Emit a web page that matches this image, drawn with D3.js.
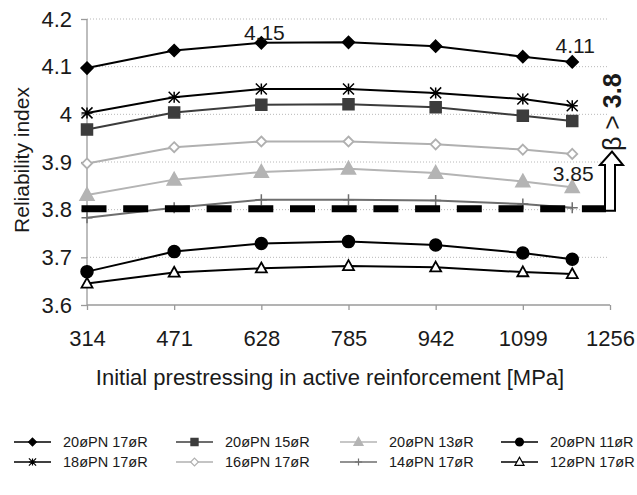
<!DOCTYPE html>
<html>
<head>
<meta charset="utf-8">
<script src="https://cdn.jsdelivr.net/npm/d3@7"></script>
<style>
  body { margin: 0; background: #fff; }
  text { font-family: "Liberation Sans", Arial, sans-serif; fill: #1a1a1a; }
</style>
</head>
<body>
<div id="chart"></div>
<script>
// prestress levels [MPa] where the points sit
var xValues = [314, 471, 628, 785, 942, 1099, 1188];
var xTicks = [314, 471, 628, 785, 942, 1099, 1256];
var yTicks = [3.6, 3.7, 3.8, 3.9, 4.0, 4.1, 4.2];
var betaLimit = 3.8;

// reliability index per series
var s20pn17r = [4.097, 4.134, 4.150, 4.151, 4.143, 4.121, 4.110];
var s20pn15r = [3.968, 4.004, 4.020, 4.021, 4.015, 3.997, 3.986];
var s20pn13r = [3.831, 3.863, 3.879, 3.886, 3.877, 3.859, 3.847];
var s20pn11r = [3.670, 3.712, 3.729, 3.733, 3.726, 3.709, 3.696];
var s18pn17r = [4.003, 4.036, 4.053, 4.053, 4.045, 4.032, 4.018];
var s16pn17r = [3.897, 3.931, 3.943, 3.943, 3.937, 3.926, 3.917];
var s14pn17r = [3.783, 3.804, 3.821, 3.821, 3.819, 3.812, 3.804];
var s12pn17r = [3.645, 3.668, 3.677, 3.682, 3.679, 3.669, 3.665];

var seriesNames = ['20øPN 17øR', '20øPN 15øR', '20øPN 13øR', '20øPN 11øR',
                   '18øPN 17øR', '16øPN 17øR', '14øPN 17øR', '12øPN 17øR'];

var series = [
  {name: seriesNames[0], values: s20pn17r, marker: 'diamond', color: '#000', fill: '#000'},
  {name: seriesNames[1], values: s20pn15r, marker: 'square', color: '#3c3c3c', fill: '#3c3c3c'},
  {name: seriesNames[2], values: s20pn13r, marker: 'triangle', color: '#b4b4b4', fill: '#b4b4b4'},
  {name: seriesNames[3], values: s20pn11r, marker: 'circle', color: '#000', fill: '#000'},
  {name: seriesNames[4], values: s18pn17r, marker: 'star', color: '#000', fill: 'none'},
  {name: seriesNames[5], values: s16pn17r, marker: 'diamond', color: '#b0b0b0', fill: '#fff'},
  {name: seriesNames[6], values: s14pn17r, marker: 'plus', color: '#6e6e6e', fill: 'none'},
  {name: seriesNames[7], values: s12pn17r, marker: 'triangle', color: '#000', fill: '#fff'}
];

// draw order: back to front roughly as in the original
var drawOrder = [7, 3, 6, 2, 5, 1, 4, 0];

var width = 637, height = 495;

var svg = d3.select('#chart').append('svg')
    .attr('width', width)
    .attr('height', height);

var x = d3.scaleLinear().domain([314, 1256]).range([87, 610]);
var y = d3.scaleLinear().domain([3.6, 4.2]).range([305, 19]);

// gridlines
svg.append('g').selectAll('line')
    .data(yTicks.slice(1))
  .enter().append('line')
    .attr('x1', x(314)).attr('x2', 608)
    .attr('y1', function(d) { return y(d); })
    .attr('y2', function(d) { return y(d); })
    .attr('stroke', '#b8b8b8')
    .attr('stroke-width', 1)
    .attr('stroke-dasharray', '1,2');

// axes
var yAxis = svg.append('g')
    .attr('transform', 'translate(' + x(314) + ',0)')
    .call(d3.axisLeft(y).tickValues(yTicks).tickSize(6).tickPadding(9)
      .tickFormat(function(d) { return String(+d.toFixed(1)); }));

var xAxis = svg.append('g')
    .attr('transform', 'translate(0,' + y(3.6) + ')')
    .call(d3.axisBottom(x).tickValues(xTicks).tickSize(5).tickPadding(20)
      .tickFormat(d3.format('d')));

[yAxis, xAxis].forEach(function(ax) {
  ax.select('.domain').attr('stroke', '#9a9a9a').attr('stroke-width', 1.3);
  ax.selectAll('.tick line').attr('stroke', '#9a9a9a').attr('stroke-width', 1.3);
  ax.selectAll('text').attr('font-size', '22px').attr('fill', '#1a1a1a')
    .attr('font-family', '"Liberation Sans", Arial, sans-serif');
});
// Excel style: no outer ticks on the domain path
yAxis.select('.domain').attr('d', 'M0,' + y(4.2) + 'V' + y(3.6));
xAxis.select('.domain').attr('d', 'M' + x(314) + ',0H' + x(1256));

function markerPath(type, s) {
  switch (type) {
    case 'diamond':
      return 'M0,' + (-s) + 'L' + s + ',0L0,' + s + 'L' + (-s) + ',0Z';
    case 'square':
      return 'M' + (-s) + ',' + (-s) + 'H' + s + 'V' + s + 'H' + (-s) + 'Z';
    case 'triangle':
      return 'M0,' + (-s * 1.05) + 'L' + s + ',' + (s * 0.75) + 'L' + (-s) + ',' + (s * 0.75) + 'Z';
    case 'circle':
      return d3.arc()({innerRadius: 0, outerRadius: s, startAngle: 0, endAngle: 2 * Math.PI});
    case 'star':
      return 'M0,' + (-s) + 'V' + s + 'M' + (-s) + ',' + (-s) + 'L' + s + ',' + s +
             'M' + (-s) + ',' + s + 'L' + s + ',' + (-s) + 'M' + (-s) + ',0H' + s;
    case 'plus':
      return 'M0,' + (-s) + 'V' + s + 'M' + (-s) + ',0H' + s;
  }
}

var markerSize = {diamond: 6, square: 5.5, triangle: 7, circle: 6, star: 5.5, plus: 5.5};

var line = d3.line()
    .x(function(d, i) { return x(xValues[i]); })
    .y(function(d) { return y(d); });

drawOrder.forEach(function(k) {
  var s = series[k];
  var g = svg.append('g');
  g.append('path')
      .attr('d', line(s.values))
      .attr('fill', 'none')
      .attr('stroke', s.color)
      .attr('stroke-width', 2);
  var size = markerSize[s.marker];
  if (s.marker == 'diamond' && s.fill == '#fff') size = 5;
  if (s.marker == 'triangle' && s.fill == '#fff') size = 5.5;
  g.selectAll('path.mk')
      .data(s.values)
    .enter().append('path')
      .attr('class', 'mk')
      .attr('transform', function(d, i) { return 'translate(' + x(xValues[i]) + ',' + y(d) + ')'; })
      .attr('d', markerPath(s.marker, size))
      .attr('fill', s.fill)
      .attr('stroke', s.color)
      .attr('stroke-width', s.fill == '#fff' ? 1.8 : 1.5);
});

// beta limit: thick dashed line ending in an open arrow
svg.append('line')
    .attr('x1', x(314) - 5.5).attr('x2', 606)
    .attr('y1', y(betaLimit) - 1).attr('y2', y(betaLimit) - 1)
    .attr('stroke', '#000')
    .attr('stroke-width', 7)
    .attr('stroke-dasharray', '25,16.7');

var ay = y(betaLimit) + 1;
svg.append('path')
    .attr('d', 'M605,' + ay + 'V165H600L612,151.5L623,165H615V' + ay + 'Z')
    .attr('fill', '#fff')
    .attr('stroke', '#000')
    .attr('stroke-width', 2)
    .attr('stroke-linejoin', 'miter');

var beta = svg.append('text')
    .attr('transform', 'translate(621,151) rotate(-90)')
    .attr('font-size', '25px');
beta.append('tspan').text('β > ');
beta.append('tspan').attr('font-weight', 'bold').text('3.8');

// value labels
svg.append('text')
    .attr('x', x(628) + 3).attr('y', y(s20pn17r[2]) - 3)
    .attr('text-anchor', 'middle').attr('font-size', '21px')
    .text('4.15');
svg.append('text')
    .attr('x', x(1188) + 3).attr('y', y(s20pn17r[6]) - 9)
    .attr('text-anchor', 'middle').attr('font-size', '21px')
    .text('4.11');
svg.append('text')
    .attr('x', x(1188) + 1).attr('y', y(s20pn13r[6]) - 6)
    .attr('text-anchor', 'middle').attr('font-size', '21px')
    .text('3.85');

// axis titles
svg.append('text')
    .attr('transform', 'translate(29,160) rotate(-90)')
    .attr('text-anchor', 'middle')
    .attr('font-size', '21px')
    .text('Reliability index');

svg.append('text')
    .attr('x', 330).attr('y', 385)
    .attr('text-anchor', 'middle')
    .attr('font-size', '22px')
    .text('Initial prestressing in active reinforcement [MPa]');

// legend, 4 columns x 2 rows
var legendCols = [14, 176, 340, 501];
var legendRows = [442, 462];
var legend = svg.append('g');
series.forEach(function(s, i) {
  var lx = legendCols[i % 4], ly = legendRows[Math.floor(i / 4)];
  var item = legend.append('g').attr('transform', 'translate(' + lx + ',' + ly + ')');
  item.append('line')
      .attr('x1', 0).attr('x2', 37)
      .attr('stroke', s.color).attr('stroke-width', 1.6);
  var ms = markerSize[s.marker] * 0.65;
  item.append('path')
      .attr('transform', 'translate(18.5,0)')
      .attr('d', markerPath(s.marker, ms))
      .attr('fill', s.fill)
      .attr('stroke', s.color)
      .attr('stroke-width', 1.2);
  item.append('text')
      .attr('x', 49).attr('y', 5)
      .attr('font-size', '14.5px')
      .text(s.name);
});
</script>
</body>
</html>
